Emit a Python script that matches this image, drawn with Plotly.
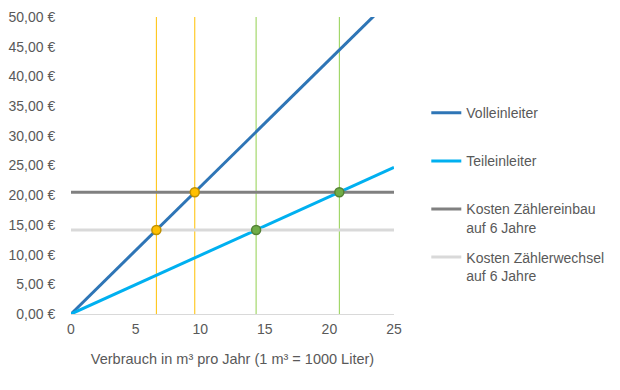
import plotly.graph_objects as go

# Data
x_range = [0, 25]
preis_voll = 2.14      # €/m³ Volleinleiter
preis_teil = 0.987     # €/m³ Teileinleiter
kosten_einbau = 20.50  # Kosten Zählereinbau auf 6 Jahre
kosten_wechsel = 14.14 # Kosten Zählerwechsel auf 6 Jahre

voll_y = [preis_voll * v for v in x_range]
teil_y = [preis_teil * v for v in x_range]

schnitt_voll_x = [kosten_wechsel / preis_voll, kosten_einbau / preis_voll]
schnitt_voll_y = [kosten_wechsel, kosten_einbau]
schnitt_teil_x = [kosten_wechsel / preis_teil, kosten_einbau / preis_teil]
schnitt_teil_y = [kosten_wechsel, kosten_einbau]

y_ticks = [0, 5, 10, 15, 20, 25, 30, 35, 40, 45, 50]
y_ticktext = [f"{v:.2f}".replace(".", ",") + " €" for v in y_ticks]
x_ticks = [0, 5, 10, 15, 20, 25]

FONT = "Liberation Sans"
GREY = "#595959"

fig = go.Figure()

# vertical helper lines
for xv in schnitt_voll_x:
    fig.add_trace(go.Scatter(x=[xv, xv], y=[0, 50], mode="lines",
                             line=dict(color="#FFC000", width=1), showlegend=False, hoverinfo="skip"))
for xv in schnitt_teil_x:
    fig.add_trace(go.Scatter(x=[xv, xv], y=[0, 50], mode="lines",
                             line=dict(color="#92D050", width=1), showlegend=False, hoverinfo="skip"))

fig.add_trace(go.Scatter(x=x_range, y=voll_y, mode="lines", name="Volleinleiter<br>\u00a0",
                         line=dict(color="#2E75B6", width=3), legendgroup="a"))
fig.add_trace(go.Scatter(x=x_range, y=teil_y, mode="lines", name="Teileinleiter<br>\u00a0",
                         line=dict(color="#00B0F0", width=3), legendgroup="b"))
fig.add_trace(go.Scatter(x=x_range, y=[kosten_einbau, kosten_einbau], mode="lines",
                         name="Kosten Zählereinbau<br>auf 6 Jahre",
                         line=dict(color="#808080", width=3), legendgroup="c"))
fig.add_trace(go.Scatter(x=x_range, y=[kosten_wechsel, kosten_wechsel], mode="lines",
                         name="Kosten Zählerwechsel<br>auf 6 Jahre",
                         line=dict(color="#D9D9D9", width=3), legendgroup="d"))

fig.add_trace(go.Scatter(x=schnitt_voll_x, y=schnitt_voll_y, mode="markers", showlegend=False,
                         marker=dict(size=9, color="#FFC000", line=dict(color="#BF9000", width=1.5))))
fig.add_trace(go.Scatter(x=schnitt_teil_x, y=schnitt_teil_y, mode="markers", showlegend=False,
                         marker=dict(size=9, color="#70AD47", line=dict(color="#548235", width=1.5))))

fig.update_layout(
    width=620, height=390,
    margin=dict(l=63, r=234, t=9, b=84),
    paper_bgcolor="white", plot_bgcolor="white",
    font=dict(family=FONT, size=14, color=GREY),
    legend=dict(x=1.1, y=0.73, xanchor="left", yanchor="top",
                traceorder="grouped", tracegroupgap=8.7, valign="top",
                font=dict(family=FONT, size=14, color=GREY)),
    xaxis=dict(range=[0, 25], tickvals=x_ticks, showgrid=False, zeroline=False,
               showline=True, linecolor="#D9D9D9", linewidth=1, automargin=False,
               ticks="outside", ticklen=2, tickcolor="rgba(0,0,0,0)",
               tickfont=dict(family=FONT, size=14, color=GREY),
               title=dict(text="Verbrauch in m³ pro Jahr (1 m³ = 1000 Liter)",
                          font=dict(family=FONT, size=14.5, color=GREY), standoff=18)),
    yaxis=dict(range=[0, 50], tickvals=y_ticks, ticktext=y_ticktext,
               showgrid=False, zeroline=False, showline=False, automargin=False,
               tickfont=dict(family=FONT, size=14, color=GREY),
               ticks="outside", ticklen=12, tickcolor="rgba(0,0,0,0)"),
)

fig.write_html("out.html")
